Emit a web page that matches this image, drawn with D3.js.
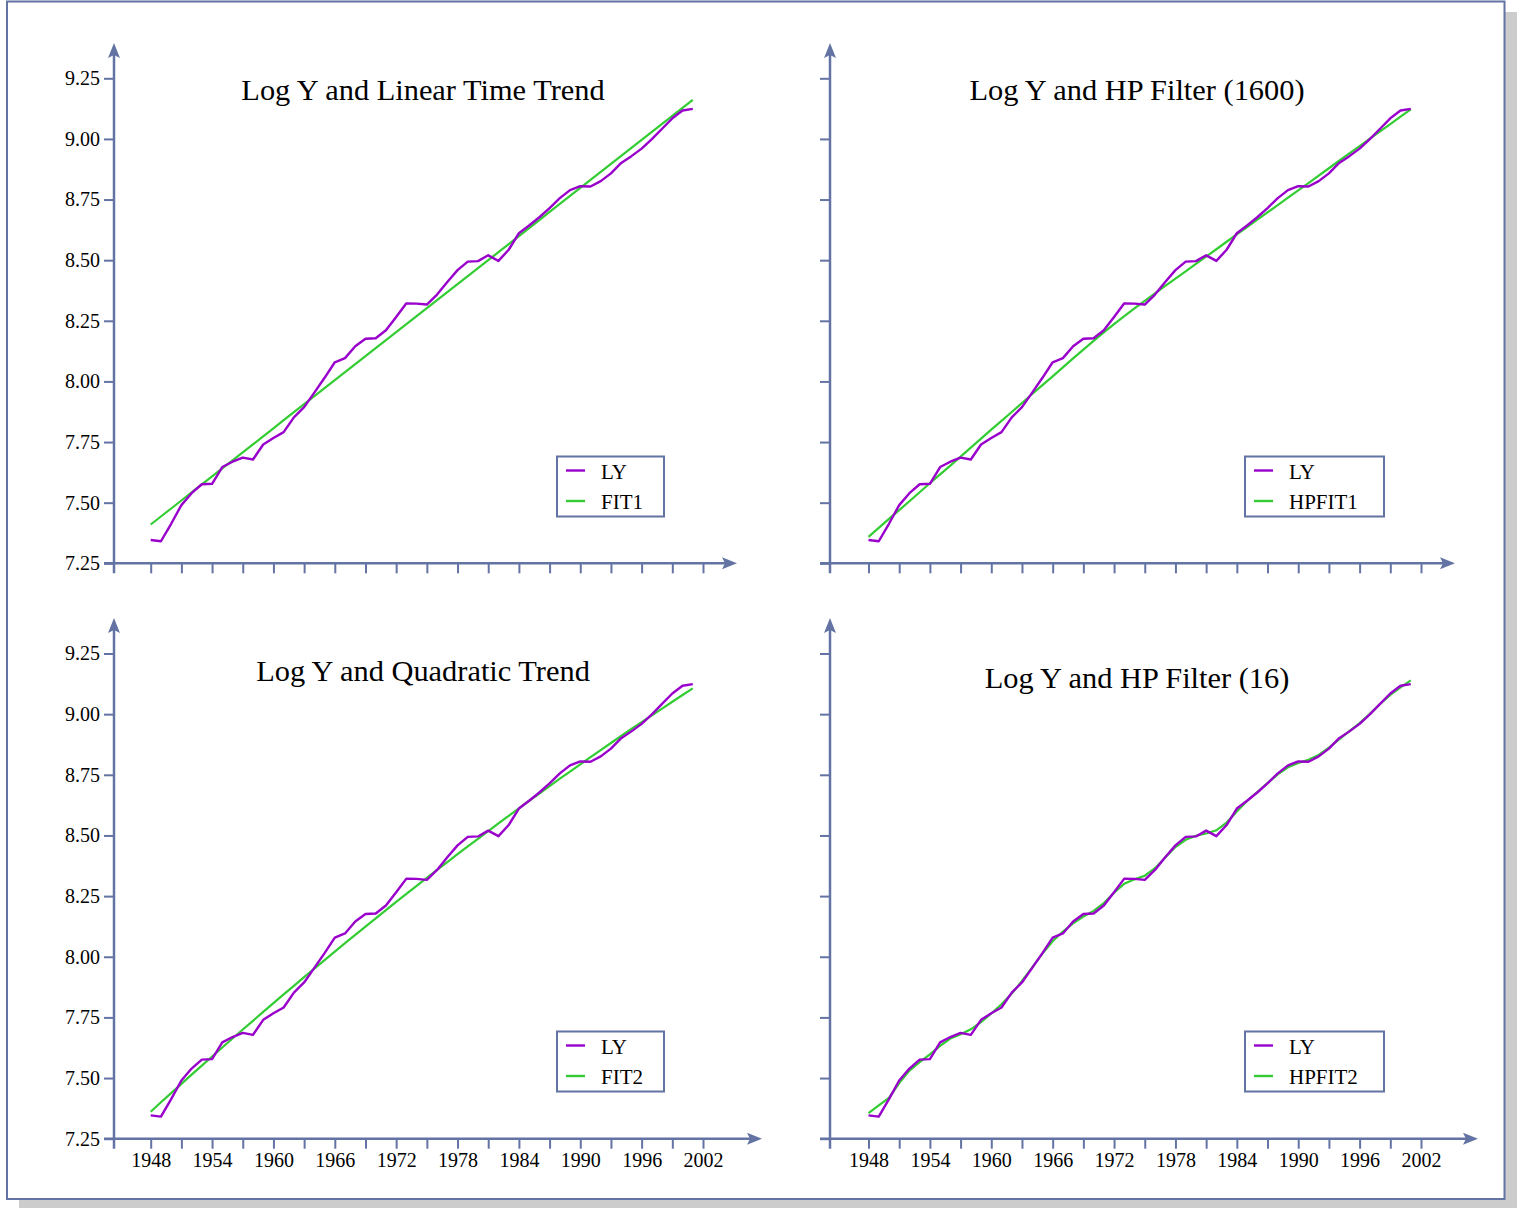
<!DOCTYPE html>
<html><head><meta charset="utf-8">
<script src="https://cdn.jsdelivr.net/npm/d3@7"></script>
<style>
html,body{margin:0;padding:0;background:#fff;}
svg{display:block;}
text{font-family:"Liberation Serif","Times New Roman",serif;fill:#000;}
</style></head><body>
<svg id="chart" width="1517" height="1208"></svg>
<script>
const years = [1948,1949,1950,1951,1952,1953,1954,1955,1956,1957,1958,1959,1960,1961,1962,1963,1964,1965,1966,1967,1968,1969,1970,1971,1972,1973,1974,1975,1976,1977,1978,1979,1980,1981,1982,1983,1984,1985,1986,1987,1988,1989,1990,1991,1992,1993,1994,1995,1996,1997,1998,1999,2000,2001];
const LY = [7.346,7.341,7.413,7.490,7.539,7.576,7.578,7.647,7.669,7.686,7.678,7.740,7.767,7.791,7.852,7.894,7.954,8.015,8.079,8.096,8.145,8.176,8.178,8.211,8.266,8.322,8.321,8.317,8.358,8.410,8.459,8.494,8.496,8.520,8.497,8.543,8.611,8.643,8.677,8.715,8.756,8.789,8.805,8.804,8.826,8.858,8.901,8.929,8.960,8.999,9.042,9.085,9.117,9.124];
const FIT1 = [7.410,7.443,7.476,7.509,7.542,7.575,7.608,7.641,7.674,7.707,7.740,7.773,7.806,7.840,7.873,7.906,7.939,7.972,8.005,8.038,8.071,8.104,8.137,8.170,8.203,8.236,8.269,8.302,8.335,8.368,8.401,8.434,8.467,8.500,8.533,8.566,8.599,8.632,8.665,8.699,8.732,8.765,8.798,8.831,8.864,8.897,8.930,8.963,8.996,9.029,9.062,9.095,9.128,9.161];
const FIT2 = [7.361,7.400,7.438,7.476,7.514,7.551,7.589,7.626,7.663,7.700,7.736,7.773,7.809,7.845,7.880,7.916,7.951,7.986,8.021,8.056,8.090,8.124,8.158,8.192,8.226,8.259,8.292,8.325,8.358,8.390,8.423,8.455,8.486,8.518,8.550,8.581,8.612,8.643,8.673,8.703,8.734,8.763,8.793,8.823,8.852,8.881,8.910,8.939,8.967,8.995,9.023,9.051,9.079,9.106];
const HPFIT1 = [7.359,7.396,7.433,7.469,7.506,7.543,7.580,7.617,7.653,7.690,7.727,7.764,7.801,7.837,7.874,7.911,7.948,7.985,8.021,8.058,8.095,8.131,8.167,8.202,8.236,8.269,8.301,8.332,8.363,8.394,8.424,8.454,8.485,8.515,8.545,8.576,8.606,8.636,8.667,8.697,8.727,8.758,8.788,8.818,8.849,8.879,8.910,8.940,8.970,9.001,9.031,9.061,9.092,9.122];
const HPFIT2 = [7.355,7.387,7.418,7.479,7.531,7.566,7.598,7.633,7.663,7.681,7.701,7.731,7.766,7.804,7.848,7.900,7.956,8.013,8.064,8.104,8.138,8.166,8.189,8.221,8.264,8.301,8.319,8.334,8.365,8.409,8.452,8.482,8.499,8.508,8.521,8.553,8.599,8.642,8.679,8.716,8.752,8.781,8.799,8.812,8.832,8.862,8.896,8.930,8.963,9.001,9.042,9.079,9.110,9.139];
const xTickYears = [1948,1951,1954,1957,1960,1963,1966,1969,1972,1975,1978,1981,1984,1987,1990,1993,1996,1999,2002];
const xTickLabels = ["1948","","1954","","1960","","1966","","1972","","1978","","1984","","1990","","1996","","2002"];
const yTicks = [7.25,7.50,7.75,8.00,8.25,8.50,8.75,9.00,9.25];
const yTickLabels = ["7.25","7.50","7.75","8.00","8.25","8.50","8.75","9.00","9.25"];
const titles = ["Log Y and Linear Time Trend","Log Y and HP Filter (1600)","Log Y and Quadratic Trend","Log Y and HP Filter (16)"];
const fitNames = ["FIT1","HPFIT1","FIT2","HPFIT2"];
const fits = [FIT1, HPFIT1, FIT2, HPFIT2];

const AXIS = "#6373a3", PURPLE = "#9900cc", GREEN = "#33cc33";
const svg = d3.select("#chart");

// frame with shadow
svg.append("rect").attr("x",19).attr("y",12).attr("width",1498).attr("height",1196).attr("fill","#cccccc");
svg.append("rect").attr("x",7).attr("y",1.5).attr("width",1497.5).attr("height",1197.5)
  .attr("fill","#fff").attr("stroke",AXIS).attr("stroke-width",2);

const layout = [
  {ox:114, xr:[150.7,703], yr:[563.3,78.3], yTop:43, xEnd:737, tx:423, ty:100, lg:{x:557,y:456.5,w:107,h:60}, showY:true, showX:false},
  {ox:830, xr:[868.5,1421], yr:[563.3,78.3], yTop:43, xEnd:1455, tx:1137, ty:100, lg:{x:1245,y:456.5,w:139,h:60}, showY:false, showX:false},
  {ox:114, xr:[150.7,703], yr:[1138.7,653.5], yTop:618, xEnd:762, tx:423, ty:681, lg:{x:557,y:1031.5,w:107,h:60}, showY:true, showX:true},
  {ox:830, xr:[868.5,1421], yr:[1138.7,653.5], yTop:618, xEnd:1478, tx:1137, ty:688, lg:{x:1245,y:1031.5,w:139,h:60}, showY:false, showX:true}
];

layout.forEach((p,i)=>{
  const g = svg.append("g");
  const x = d3.scaleLinear().domain([1948,2002]).range(p.xr);
  const y = d3.scaleLinear().domain([7.25,9.25]).range(p.yr);
  const y0 = y(7.25);

  // x axis ticks
  const xa = d3.axisBottom(x).tickValues(xTickYears).tickSize(10).tickSizeOuter(0).tickPadding(4)
    .tickFormat((d,k)=> p.showX ? xTickLabels[k] : "");
  const gx = g.append("g").attr("transform",`translate(0,${y0})`).call(xa);
  gx.select(".domain").remove();
  gx.selectAll("line").attr("stroke",AXIS).attr("stroke-width",2);
  gx.selectAll("text").attr("font-size",20).attr("fill","#000").style("font-family",'"Liberation Serif","Times New Roman",serif');

  // y axis ticks
  const ya = d3.axisLeft(y).tickValues(yTicks).tickSize(10).tickSizeOuter(0).tickPadding(4)
    .tickFormat((d,k)=> p.showY ? yTickLabels[k] : "");
  const gy = g.append("g").attr("transform",`translate(${p.ox},0)`).call(ya);
  gy.select(".domain").remove();
  gy.selectAll("line").attr("stroke",AXIS).attr("stroke-width",2);
  gy.selectAll("text").attr("font-size",20).attr("fill","#000").style("font-family",'"Liberation Serif","Times New Roman",serif');

  // axis lines
  g.append("line").attr("x1",p.ox-10).attr("x2",p.xEnd-8).attr("y1",y0).attr("y2",y0)
    .attr("stroke",AXIS).attr("stroke-width",2.5);
  g.append("line").attr("x1",p.ox).attr("x2",p.ox).attr("y1",y0+10).attr("y2",p.yTop+8)
    .attr("stroke",AXIS).attr("stroke-width",2.5);
  // arrowheads
  g.append("path").attr("d",`M${p.xEnd},${y0} L${p.xEnd-15},${y0-6} L${p.xEnd-12},${y0} L${p.xEnd-15},${y0+6} Z`).attr("fill",AXIS);
  g.append("path").attr("d",`M${p.ox},${p.yTop} L${p.ox-6},${p.yTop+15} L${p.ox},${p.yTop+12} L${p.ox+6},${p.yTop+15} Z`).attr("fill",AXIS);

  // lines
  const line = d3.line().x((d,k)=>x(years[k])).y(d=>y(d));
  g.append("path").datum(fits[i]).attr("d",line).attr("fill","none").attr("stroke",GREEN).attr("stroke-width",2.2);
  g.append("path").datum(LY).attr("d",line).attr("fill","none").attr("stroke",PURPLE).attr("stroke-width",2.4).attr("stroke-linejoin","round");

  // title
  g.append("text").attr("x",p.tx).attr("y",p.ty).attr("text-anchor","middle").attr("font-size",30.4).text(titles[i]);

  // legend
  const lg = g.append("g").attr("transform",`translate(${p.lg.x},${p.lg.y})`);
  lg.append("rect").attr("width",p.lg.w).attr("height",p.lg.h).attr("fill","#fff").attr("stroke",AXIS).attr("stroke-width",2);
  const items = [{name:"LY",c:PURPLE},{name:fitNames[i],c:GREEN}];
  items.forEach((it,k)=>{
    const yy = 14 + k*30.5;
    lg.append("line").attr("x1",9).attr("x2",28).attr("y1",yy).attr("y2",yy).attr("stroke",it.c).attr("stroke-width",2.4);
    lg.append("text").attr("x",44).attr("y",yy+8).attr("font-size",21).text(it.name);
  });
});
</script>
</body></html>
